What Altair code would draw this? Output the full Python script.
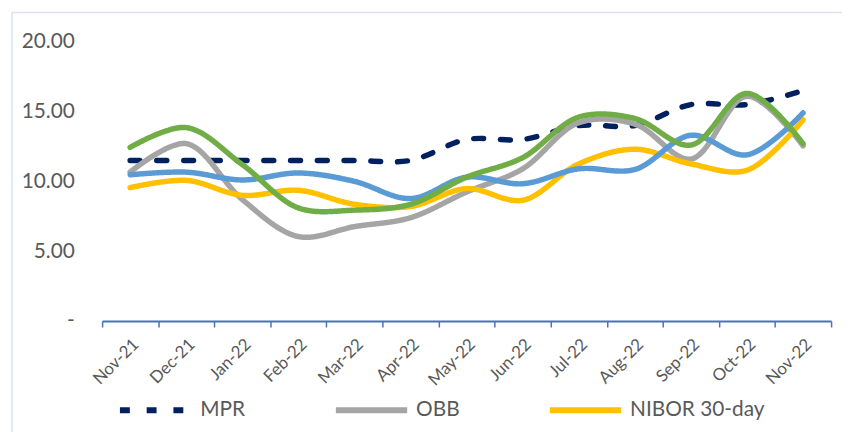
import altair as alt
import pandas as pd

months = ["Nov-21", "Dec-21", "Jan-22", "Feb-22", "Mar-22", "Apr-22", "May-22",
          "Jun-22", "Jul-22", "Aug-22", "Sep-22", "Oct-22", "Nov-22"]
series_names = ["MPR", "OBB", "NIBOR 30-day", "NIBOR 90-day", "Overnight"]
mpr = [11.5, 11.5, 11.5, 11.5, 11.5, 11.5, 13.0, 13.0, 14.0, 14.0, 15.5, 15.5, 16.5]
obb = [10.66, 12.7, 8.7, 6.05, 6.76, 7.4, 9.24, 10.9, 14.2, 14.1, 11.6, 16.1, 12.55]
nibor30 = [9.55, 10.07, 9.0, 9.36, 8.36, 8.2, 9.48, 8.65, 11.25, 12.3, 11.25, 10.8, 14.4]
nibor90 = [10.47, 10.66, 10.1, 10.6, 10.0, 8.77, 10.3, 9.83, 10.9, 10.85, 13.3, 11.9, 14.9]
overnight = [12.43, 13.85, 11.2, 8.1, 7.94, 8.36, 10.3, 11.7, 14.6, 14.5, 12.6, 16.3, 12.7]
legend_shown = ["MPR", "OBB", "NIBOR 30-day"]

colors = ["#002060", "#A5A5A5", "#FFC000", "#5B9BD5", "#70AD47"]
dashes = [[10, 17], [1, 0], [1, 0], [1, 0], [1, 0]]

rows = []
for name, vals in zip(series_names, [mpr, obb, nibor30, nibor90, overnight]):
    for i, (m, v) in enumerate(zip(months, vals)):
        rows.append({"series": name, "month": m, "value": v, "order": i})
df = pd.DataFrame(rows)

FONT = "Lato"
GREY = "#595959"

lines = alt.Chart(df).mark_line(
    interpolate="catmull-rom", strokeWidth=5.5, strokeCap="round"
).encode(
    x=alt.X("month:N", sort=months,
            scale=alt.Scale(type="band", paddingInner=0, paddingOuter=0),
            axis=alt.Axis(title=None, labelAngle=-45, labelFont=FONT, labelFontSize=17,
                          labelColor=GREY, domainColor="#4472C4", domainWidth=2,
                          tickColor="#4472C4", tickWidth=1.5, tickSize=6,
                          tickBand="extent", labelPadding=9, grid=False)),
    y=alt.Y("value:Q", scale=alt.Scale(domain=[0, 20]),
            axis=alt.Axis(title=None, values=[0, 5, 10, 15, 20], grid=False,
                          domain=False, ticks=False, tickSize=0, labelPadding=28,
                          labelFont=FONT, labelFontSize=21, labelColor=GREY,
                          labelExpr="datum.value == 0 ? '-\u00a0\u00a0\u00a0' : format(datum.value, '.2f')")),
    color=alt.Color("series:N", scale=alt.Scale(domain=series_names, range=colors),
                    legend=alt.Legend(title=None, orient="none", direction="horizontal",
                                      legendX=15, legendY=333, values=legend_shown,
                                      symbolType="stroke", symbolSize=5184,
                                      symbolStrokeWidth=6, labelOffset=6,
                                      columnPadding=79, labelFont=FONT,
                                      labelFontSize=21, labelColor=GREY, padding=0)),
    strokeDash=alt.StrokeDash("series:N", scale=alt.Scale(domain=series_names, range=dashes),
                              legend=alt.Legend(title=None, orient="none", values=legend_shown)),
    order="order:Q",
)

border_src = alt.Data(values=[{"k": 1}])
border_top = alt.Chart(border_src).mark_rule(color="#D9E2F3", strokeWidth=1.5).encode(
    x=alt.value(-91), x2=alt.value(760), y=alt.value(-29.5))
border_left = alt.Chart(border_src).mark_rule(color="#D9E2F3", strokeWidth=1.5).encode(
    x=alt.value(-91), y=alt.value(-29.5), y2=alt.value(420))

chart = alt.layer(border_top, border_left, lines).properties(
    width=736, height=282,
    background="white",
    autosize=alt.AutoSizeParams(type="none"),
    padding={"left": 95, "top": 32, "right": 11, "bottom": 110},
).configure_view(strokeWidth=0, stroke=None)

chart.save("out.html", embed_options={"renderer": "svg", "actions": False})
